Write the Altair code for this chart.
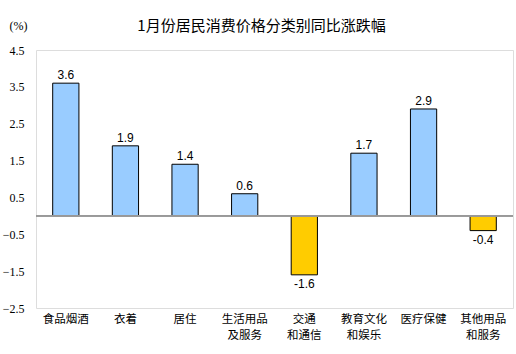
import altair as alt
import pandas as pd

categories = ["食品烟酒", "衣着", "居住", "生活用品\n及服务", "交通\n和通信", "教育文化\n和娱乐", "医疗保健", "其他用品\n和服务"]
values = [3.6, 1.9, 1.4, 0.6, -1.6, 1.7, 2.9, -0.4]
y_ticks = [-2.5, -1.5, -0.5, 0.5, 1.5, 2.5, 3.5, 4.5]

df = pd.DataFrame({"cat": categories, "val": values})
df["label"] = df["val"].map(lambda v: f"{v:.1f}")

x_enc = alt.X("cat:N", sort=categories,
              scale=alt.Scale(paddingInner=0.56, paddingOuter=0.28),
              axis=alt.Axis(title=None, labelAngle=0, ticks=False, domain=False,
                            labelFont="Noto Sans CJK SC", labelFontSize=11.5, labelColor="#000",
                            labelPadding=5, labelLineHeight=16,
                            labelExpr="split(datum.label, '\\n')"))
y_scale = alt.Scale(domain=[-2.5, 4.5], nice=False, zero=False)

base = alt.Chart(df)

bars = base.mark_bar(stroke="#000", strokeWidth=1).encode(
    x=x_enc,
    y=alt.Y("val:Q", scale=y_scale,
            axis=alt.Axis(values=y_ticks, tickCount=12, format=".1f", grid=False, ticks=False,
                          domain=False, labelOverlap=False, labelFlush=False,
                          labelFont="Liberation Serif", labelFontSize=12, labelColor="#000",
                          labelPadding=12, title="(%)", titleAngle=0, titleX=-27, titleY=-25,
                          titleAlign="left", titleBaseline="middle", titleFont="Liberation Serif",
                          titleFontSize=12, titleFontWeight="normal", titleColor="#000")),
    color=alt.condition("datum.val >= 0", alt.value("#99CCFF"), alt.value("#FFCC00")),
)

zero = base.mark_rule(color="#999", strokeWidth=1).encode(y=alt.datum(0))

text_pos = base.transform_filter("datum.val >= 0").mark_text(
    dy=-8, font="Liberation Sans", fontSize=12, color="#000").encode(
    x=alt.X("cat:N", sort=categories),
    y=alt.Y("val:Q", scale=y_scale), text="label:N")
text_neg = base.transform_filter("datum.val < 0").mark_text(
    dy=9, font="Liberation Sans", fontSize=12, color="#000").encode(
    x=alt.X("cat:N", sort=categories),
    y=alt.Y("val:Q", scale=y_scale), text="label:N")

chart = alt.layer(bars, zero, text_pos, text_neg).properties(
    width=477, height=258,
    title=alt.TitleParams("1月份居民消费价格分类别同比涨跌幅", font="Noto Sans CJK SC",
                          fontSize=15, fontWeight="normal", color="#000", anchor="middle",
                          offset=-15, dx=-13),
    autosize=alt.AutoSizeParams(type="none"),
    padding={"left": 36, "top": 50, "right": 3, "bottom": 46},
).configure_view(stroke="#888", strokeWidth=1).configure_axisY(labelOverlap=False, tickCount=12).configure(background="#fff")

chart.save("out.html", embed_options={"renderer": "svg", "actions": False})
